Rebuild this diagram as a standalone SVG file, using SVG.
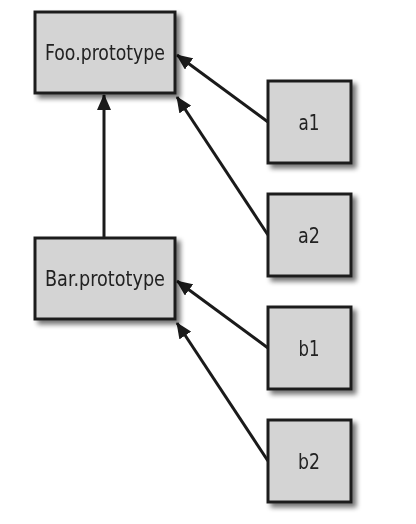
<svg xmlns="http://www.w3.org/2000/svg" width="416" height="524" viewBox="0 0 416 524">
<defs>
<filter id="sh" x="-20%" y="-20%" width="150%" height="150%">
<feGaussianBlur in="SourceAlpha" stdDeviation="2.5"/>
<feOffset dx="4" dy="4" result="b"/>
<feComponentTransfer><feFuncA type="linear" slope="0.55"/></feComponentTransfer>
<feMerge><feMergeNode/><feMergeNode in="SourceGraphic"/></feMerge>
</filter>
<marker id="ah" viewBox="0 0 16 14" refX="15" refY="7" markerWidth="16" markerHeight="14" markerUnits="userSpaceOnUse" orient="auto">
<path d="M0,0 L16,7 L0,14 Z" fill="#1a1a1a"/>
</marker>
</defs>
<style>
.box{fill:#d4d4d4;stroke:#1e1e1e;stroke-width:3}
.lbl{font-family:"DejaVu Sans Condensed","Liberation Sans Narrow","Liberation Sans",sans-serif;font-size:22px;fill:#222222;text-anchor:middle}
.edge{stroke:#1a1a1a;stroke-width:3;fill:none;marker-end:url(#ah)}
</style>
<rect width="416" height="524" fill="#ffffff"/>
<g id="connectors">
<line class="edge" x1="104" y1="237" x2="104" y2="95"/>
<line class="edge" x1="268" y1="122" x2="177" y2="55"/>
<line class="edge" x1="268" y1="235" x2="177" y2="97"/>
<line class="edge" x1="268" y1="348" x2="177" y2="281"/>
<line class="edge" x1="268" y1="461" x2="177" y2="323"/>
</g>
<g id="foo" filter="url(#sh)"><rect class="box" x="35" y="12" width="140" height="81"/><text class="lbl" x="105" y="60" textLength="120" lengthAdjust="spacingAndGlyphs">Foo.prototype</text></g>
<g id="bar" filter="url(#sh)"><rect class="box" x="35" y="238" width="140" height="81"/><text class="lbl" x="105" y="286" textLength="120" lengthAdjust="spacingAndGlyphs">Bar.prototype</text></g>
<g id="a1" filter="url(#sh)"><rect class="box" x="268" y="81" width="83" height="82"/><text class="lbl" x="309" y="130" textLength="21" lengthAdjust="spacingAndGlyphs">a1</text></g>
<g id="a2" filter="url(#sh)"><rect class="box" x="268" y="194" width="83" height="82"/><text class="lbl" x="309" y="243" textLength="22" lengthAdjust="spacingAndGlyphs">a2</text></g>
<g id="b1" filter="url(#sh)"><rect class="box" x="268" y="307" width="83" height="82"/><text class="lbl" x="309" y="356" textLength="21" lengthAdjust="spacingAndGlyphs">b1</text></g>
<g id="b2" filter="url(#sh)"><rect class="box" x="268" y="420" width="83" height="82"/><text class="lbl" x="309" y="469" textLength="22" lengthAdjust="spacingAndGlyphs">b2</text></g>
</svg>
